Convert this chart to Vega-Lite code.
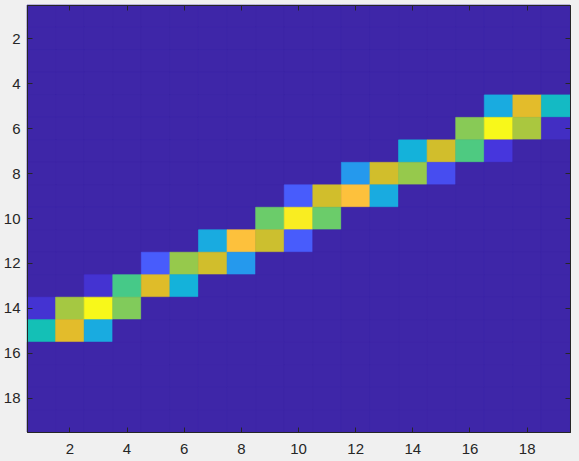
{
  "$schema": "https://vega.github.io/schema/vega-lite/v6.json",
  "width": 543,
  "height": 427,
  "autosize": "none",
  "padding": {"left": 27, "top": 5, "right": 9, "bottom": 29},
  "background": "#f0f0f0",
  "config": {
    "view": {"stroke": "#262626", "strokeWidth": 1, "fill": "#3e26a8"},
    "axis": {"domainColor": "#262626", "tickColor": "#262626", "labelColor": "#262626", "labelFont": "Liberation Sans", "labelFontSize": 15, "grid": false, "tickSize": -5, "domainWidth": 1, "tickWidth": 1, "title": null, "labelAngle": 0}
  },
  "data": {"values": [
{"r":1,"c":1,"v":0},{"r":1,"c":2,"v":0},{"r":1,"c":3,"v":0},{"r":1,"c":4,"v":0},{"r":1,"c":5,"v":0},{"r":1,"c":6,"v":0},{"r":1,"c":7,"v":0},{"r":1,"c":8,"v":0},{"r":1,"c":9,"v":0},{"r":1,"c":10,"v":0},{"r":1,"c":11,"v":0},{"r":1,"c":12,"v":0},{"r":1,"c":13,"v":0},{"r":1,"c":14,"v":0},{"r":1,"c":15,"v":0},{"r":1,"c":16,"v":0},{"r":1,"c":17,"v":0},{"r":1,"c":18,"v":0},{"r":1,"c":19,"v":0},
{"r":2,"c":1,"v":0},{"r":2,"c":2,"v":0},{"r":2,"c":3,"v":0},{"r":2,"c":4,"v":0},{"r":2,"c":5,"v":0},{"r":2,"c":6,"v":0},{"r":2,"c":7,"v":0},{"r":2,"c":8,"v":0},{"r":2,"c":9,"v":0},{"r":2,"c":10,"v":0},{"r":2,"c":11,"v":0},{"r":2,"c":12,"v":0},{"r":2,"c":13,"v":0},{"r":2,"c":14,"v":0},{"r":2,"c":15,"v":0},{"r":2,"c":16,"v":0},{"r":2,"c":17,"v":0},{"r":2,"c":18,"v":0},{"r":2,"c":19,"v":0},
{"r":3,"c":1,"v":0},{"r":3,"c":2,"v":0},{"r":3,"c":3,"v":0},{"r":3,"c":4,"v":0},{"r":3,"c":5,"v":0},{"r":3,"c":6,"v":0},{"r":3,"c":7,"v":0},{"r":3,"c":8,"v":0},{"r":3,"c":9,"v":0},{"r":3,"c":10,"v":0},{"r":3,"c":11,"v":0},{"r":3,"c":12,"v":0},{"r":3,"c":13,"v":0},{"r":3,"c":14,"v":0},{"r":3,"c":15,"v":0},{"r":3,"c":16,"v":0},{"r":3,"c":17,"v":0},{"r":3,"c":18,"v":0},{"r":3,"c":19,"v":0},
{"r":4,"c":1,"v":0},{"r":4,"c":2,"v":0},{"r":4,"c":3,"v":0},{"r":4,"c":4,"v":0},{"r":4,"c":5,"v":0},{"r":4,"c":6,"v":0},{"r":4,"c":7,"v":0},{"r":4,"c":8,"v":0},{"r":4,"c":9,"v":0},{"r":4,"c":10,"v":0},{"r":4,"c":11,"v":0},{"r":4,"c":12,"v":0},{"r":4,"c":13,"v":0},{"r":4,"c":14,"v":0},{"r":4,"c":15,"v":0},{"r":4,"c":16,"v":0},{"r":4,"c":17,"v":0},{"r":4,"c":18,"v":0},{"r":4,"c":19,"v":0},
{"r":5,"c":1,"v":0},{"r":5,"c":2,"v":0},{"r":5,"c":3,"v":0},{"r":5,"c":4,"v":0},{"r":5,"c":5,"v":0},{"r":5,"c":6,"v":0},{"r":5,"c":7,"v":0},{"r":5,"c":8,"v":0},{"r":5,"c":9,"v":0},{"r":5,"c":10,"v":0},{"r":5,"c":11,"v":0},{"r":5,"c":12,"v":0},{"r":5,"c":13,"v":0},{"r":5,"c":14,"v":0},{"r":5,"c":15,"v":0},{"r":5,"c":16,"v":0},{"r":5,"c":17,"v":0.37},{"r":5,"c":18,"v":0.82},{"r":5,"c":19,"v":0.46},
{"r":6,"c":1,"v":0},{"r":6,"c":2,"v":0},{"r":6,"c":3,"v":0},{"r":6,"c":4,"v":0},{"r":6,"c":5,"v":0},{"r":6,"c":6,"v":0},{"r":6,"c":7,"v":0},{"r":6,"c":8,"v":0},{"r":6,"c":9,"v":0},{"r":6,"c":10,"v":0},{"r":6,"c":11,"v":0},{"r":6,"c":12,"v":0},{"r":6,"c":13,"v":0},{"r":6,"c":14,"v":0},{"r":6,"c":15,"v":0},{"r":6,"c":16,"v":0.66},{"r":6,"c":17,"v":1.0},{"r":6,"c":18,"v":0.71},{"r":6,"c":19,"v":0.05},
{"r":7,"c":1,"v":0},{"r":7,"c":2,"v":0},{"r":7,"c":3,"v":0},{"r":7,"c":4,"v":0},{"r":7,"c":5,"v":0},{"r":7,"c":6,"v":0},{"r":7,"c":7,"v":0},{"r":7,"c":8,"v":0},{"r":7,"c":9,"v":0},{"r":7,"c":10,"v":0},{"r":7,"c":11,"v":0},{"r":7,"c":12,"v":0},{"r":7,"c":13,"v":0},{"r":7,"c":14,"v":0.40},{"r":7,"c":15,"v":0.78},{"r":7,"c":16,"v":0.58},{"r":7,"c":17,"v":0.10},{"r":7,"c":18,"v":0},{"r":7,"c":19,"v":0},
{"r":8,"c":1,"v":0},{"r":8,"c":2,"v":0},{"r":8,"c":3,"v":0},{"r":8,"c":4,"v":0},{"r":8,"c":5,"v":0},{"r":8,"c":6,"v":0},{"r":8,"c":7,"v":0},{"r":8,"c":8,"v":0},{"r":8,"c":9,"v":0},{"r":8,"c":10,"v":0},{"r":8,"c":11,"v":0},{"r":8,"c":12,"v":0.30},{"r":8,"c":13,"v":0.78},{"r":8,"c":14,"v":0.68},{"r":8,"c":15,"v":0.16},{"r":8,"c":16,"v":0},{"r":8,"c":17,"v":0},{"r":8,"c":18,"v":0},{"r":8,"c":19,"v":0},
{"r":9,"c":1,"v":0},{"r":9,"c":2,"v":0},{"r":9,"c":3,"v":0},{"r":9,"c":4,"v":0},{"r":9,"c":5,"v":0},{"r":9,"c":6,"v":0},{"r":9,"c":7,"v":0},{"r":9,"c":8,"v":0},{"r":9,"c":9,"v":0},{"r":9,"c":10,"v":0.20},{"r":9,"c":11,"v":0.78},{"r":9,"c":12,"v":0.90},{"r":9,"c":13,"v":0.37},{"r":9,"c":14,"v":0},{"r":9,"c":15,"v":0},{"r":9,"c":16,"v":0},{"r":9,"c":17,"v":0},{"r":9,"c":18,"v":0},{"r":9,"c":19,"v":0},
{"r":10,"c":1,"v":0},{"r":10,"c":2,"v":0},{"r":10,"c":3,"v":0},{"r":10,"c":4,"v":0},{"r":10,"c":5,"v":0},{"r":10,"c":6,"v":0},{"r":10,"c":7,"v":0},{"r":10,"c":8,"v":0},{"r":10,"c":9,"v":0.62},{"r":10,"c":10,"v":0.98},{"r":10,"c":11,"v":0.62},{"r":10,"c":12,"v":0},{"r":10,"c":13,"v":0},{"r":10,"c":14,"v":0},{"r":10,"c":15,"v":0},{"r":10,"c":16,"v":0},{"r":10,"c":17,"v":0},{"r":10,"c":18,"v":0},{"r":10,"c":19,"v":0},
{"r":11,"c":1,"v":0},{"r":11,"c":2,"v":0},{"r":11,"c":3,"v":0},{"r":11,"c":4,"v":0},{"r":11,"c":5,"v":0},{"r":11,"c":6,"v":0},{"r":11,"c":7,"v":0.37},{"r":11,"c":8,"v":0.90},{"r":11,"c":9,"v":0.77},{"r":11,"c":10,"v":0.20},{"r":11,"c":11,"v":0},{"r":11,"c":12,"v":0},{"r":11,"c":13,"v":0},{"r":11,"c":14,"v":0},{"r":11,"c":15,"v":0},{"r":11,"c":16,"v":0},{"r":11,"c":17,"v":0},{"r":11,"c":18,"v":0},{"r":11,"c":19,"v":0},
{"r":12,"c":1,"v":0},{"r":12,"c":2,"v":0},{"r":12,"c":3,"v":0},{"r":12,"c":4,"v":0},{"r":12,"c":5,"v":0.20},{"r":12,"c":6,"v":0.68},{"r":12,"c":7,"v":0.78},{"r":12,"c":8,"v":0.30},{"r":12,"c":9,"v":0},{"r":12,"c":10,"v":0},{"r":12,"c":11,"v":0},{"r":12,"c":12,"v":0},{"r":12,"c":13,"v":0},{"r":12,"c":14,"v":0},{"r":12,"c":15,"v":0},{"r":12,"c":16,"v":0},{"r":12,"c":17,"v":0},{"r":12,"c":18,"v":0},{"r":12,"c":19,"v":0},
{"r":13,"c":1,"v":0},{"r":13,"c":2,"v":0},{"r":13,"c":3,"v":0.08},{"r":13,"c":4,"v":0.57},{"r":13,"c":5,"v":0.81},{"r":13,"c":6,"v":0.40},{"r":13,"c":7,"v":0},{"r":13,"c":8,"v":0},{"r":13,"c":9,"v":0},{"r":13,"c":10,"v":0},{"r":13,"c":11,"v":0},{"r":13,"c":12,"v":0},{"r":13,"c":13,"v":0},{"r":13,"c":14,"v":0},{"r":13,"c":15,"v":0},{"r":13,"c":16,"v":0},{"r":13,"c":17,"v":0},{"r":13,"c":18,"v":0},{"r":13,"c":19,"v":0},
{"r":14,"c":1,"v":0.08},{"r":14,"c":2,"v":0.70},{"r":14,"c":3,"v":1.0},{"r":14,"c":4,"v":0.65},{"r":14,"c":5,"v":0},{"r":14,"c":6,"v":0},{"r":14,"c":7,"v":0},{"r":14,"c":8,"v":0},{"r":14,"c":9,"v":0},{"r":14,"c":10,"v":0},{"r":14,"c":11,"v":0},{"r":14,"c":12,"v":0},{"r":14,"c":13,"v":0},{"r":14,"c":14,"v":0},{"r":14,"c":15,"v":0},{"r":14,"c":16,"v":0},{"r":14,"c":17,"v":0},{"r":14,"c":18,"v":0},{"r":14,"c":19,"v":0},
{"r":15,"c":1,"v":0.50},{"r":15,"c":2,"v":0.82},{"r":15,"c":3,"v":0.37},{"r":15,"c":4,"v":0},{"r":15,"c":5,"v":0},{"r":15,"c":6,"v":0},{"r":15,"c":7,"v":0},{"r":15,"c":8,"v":0},{"r":15,"c":9,"v":0},{"r":15,"c":10,"v":0},{"r":15,"c":11,"v":0},{"r":15,"c":12,"v":0},{"r":15,"c":13,"v":0},{"r":15,"c":14,"v":0},{"r":15,"c":15,"v":0},{"r":15,"c":16,"v":0},{"r":15,"c":17,"v":0},{"r":15,"c":18,"v":0},{"r":15,"c":19,"v":0},
{"r":16,"c":1,"v":0},{"r":16,"c":2,"v":0},{"r":16,"c":3,"v":0},{"r":16,"c":4,"v":0},{"r":16,"c":5,"v":0},{"r":16,"c":6,"v":0},{"r":16,"c":7,"v":0},{"r":16,"c":8,"v":0},{"r":16,"c":9,"v":0},{"r":16,"c":10,"v":0},{"r":16,"c":11,"v":0},{"r":16,"c":12,"v":0},{"r":16,"c":13,"v":0},{"r":16,"c":14,"v":0},{"r":16,"c":15,"v":0},{"r":16,"c":16,"v":0},{"r":16,"c":17,"v":0},{"r":16,"c":18,"v":0},{"r":16,"c":19,"v":0},
{"r":17,"c":1,"v":0},{"r":17,"c":2,"v":0},{"r":17,"c":3,"v":0},{"r":17,"c":4,"v":0},{"r":17,"c":5,"v":0},{"r":17,"c":6,"v":0},{"r":17,"c":7,"v":0},{"r":17,"c":8,"v":0},{"r":17,"c":9,"v":0},{"r":17,"c":10,"v":0},{"r":17,"c":11,"v":0},{"r":17,"c":12,"v":0},{"r":17,"c":13,"v":0},{"r":17,"c":14,"v":0},{"r":17,"c":15,"v":0},{"r":17,"c":16,"v":0},{"r":17,"c":17,"v":0},{"r":17,"c":18,"v":0},{"r":17,"c":19,"v":0},
{"r":18,"c":1,"v":0},{"r":18,"c":2,"v":0},{"r":18,"c":3,"v":0},{"r":18,"c":4,"v":0},{"r":18,"c":5,"v":0},{"r":18,"c":6,"v":0},{"r":18,"c":7,"v":0},{"r":18,"c":8,"v":0},{"r":18,"c":9,"v":0},{"r":18,"c":10,"v":0},{"r":18,"c":11,"v":0},{"r":18,"c":12,"v":0},{"r":18,"c":13,"v":0},{"r":18,"c":14,"v":0},{"r":18,"c":15,"v":0},{"r":18,"c":16,"v":0},{"r":18,"c":17,"v":0},{"r":18,"c":18,"v":0},{"r":18,"c":19,"v":0},
{"r":19,"c":1,"v":0},{"r":19,"c":2,"v":0},{"r":19,"c":3,"v":0},{"r":19,"c":4,"v":0},{"r":19,"c":5,"v":0},{"r":19,"c":6,"v":0},{"r":19,"c":7,"v":0},{"r":19,"c":8,"v":0},{"r":19,"c":9,"v":0},{"r":19,"c":10,"v":0},{"r":19,"c":11,"v":0},{"r":19,"c":12,"v":0},{"r":19,"c":13,"v":0},{"r":19,"c":14,"v":0},{"r":19,"c":15,"v":0},{"r":19,"c":16,"v":0},{"r":19,"c":17,"v":0},{"r":19,"c":18,"v":0},{"r":19,"c":19,"v":0}
  ]},
  "layer": [
    {
      "mark": {"type": "rect", "strokeWidth": 0.6},
      "encoding": {
        "x": {"field": "c", "type": "ordinal", "scale": {"paddingInner": 0, "paddingOuter": 0}, "axis": {"orient": "bottom", "values": [2,4,6,8,10,12,14,16,18], "labelPadding": 14}},
        "y": {"field": "r", "type": "ordinal", "scale": {"paddingInner": 0, "paddingOuter": 0}, "axis": {"orient": "left", "values": [2,4,6,8,10,12,14,16,18], "labelPadding": 12}},
        "color": {"field": "v", "type": "quantitative", "legend": null, "scale": {"type": "linear", "interpolate": "rgb", "domain": [0, 1], "range": ["#3e26a8", "#4636dd", "#485cfc", "#2599ed", "#14b2da", "#14c0b6", "#5ccd74", "#a5c842", "#dcbb27", "#fdc13c", "#f8f81a"]}},
        "stroke": {"field": "v", "type": "quantitative", "legend": null, "scale": {"type": "linear", "interpolate": "rgb", "domain": [0, 1], "range": ["#3e26a8", "#4636dd", "#485cfc", "#2599ed", "#14b2da", "#14c0b6", "#5ccd74", "#a5c842", "#dcbb27", "#fdc13c", "#f8f81a"]}}
      }
    },
    {
      "mark": {"type": "rect", "opacity": 0},
      "encoding": {
        "x": {"field": "c", "type": "ordinal", "axis": {"orient": "top", "values": [2,4,6,8,10,12,14,16,18], "labels": false}},
        "y": {"field": "r", "type": "ordinal", "axis": {"orient": "right", "values": [2,4,6,8,10,12,14,16,18], "labels": false}}
      }
    }
  ],
  "resolve": {"axis": {"x": "independent", "y": "independent"}}
}
